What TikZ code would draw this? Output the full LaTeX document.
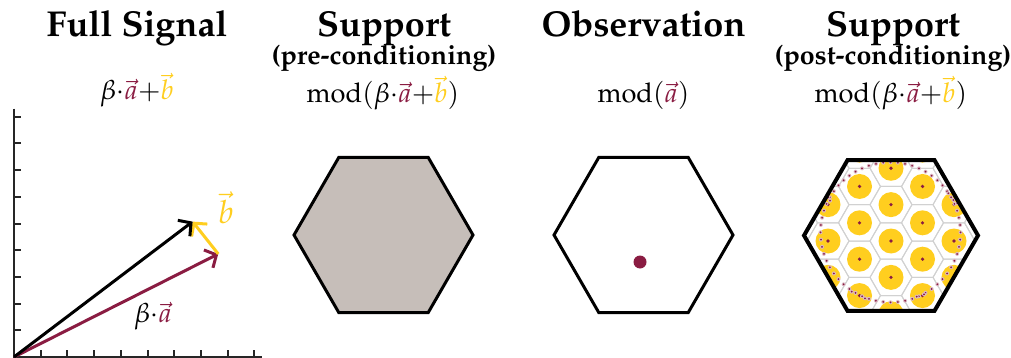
\documentclass[tikz,border=0pt]{standalone}
\usepackage[T1]{fontenc}
\usepackage{mathpazo}
\usepackage{xcolor}
\definecolor{sigred}{HTML}{8A1C42}
\definecolor{sigyellow}{HTML}{FFCE1F}
\definecolor{supgray}{HTML}{C6BEB9}
\usepackage{amsmath}
\usepackage{tikz}
\usetikzlibrary{arrows.meta}
\newcommand{\va}{{\color{sigred}\vec{a}}}
\newcommand{\vb}{{\color{sigyellow}\vec{b}}}
\newcommand{\modop}{\mathrm{mod}}

\begin{document}
\begin{tikzpicture}[x=0.5pt, y=-0.5pt,
  title/.style={font=\fontsize{18}{20}\selectfont\bfseries, anchor=base},
  subtitle/.style={font=\fontsize{13.4}{15}\selectfont\bfseries, anchor=base},
  formula/.style={font=\fontsize{13.6}{15}\selectfont, anchor=base},
  axisline/.style={line width=1pt, black!85},
  vecarrow/.style={line width=1.5pt, -{Straight Barb[length=4.5pt, width=10pt, line width=1.5pt]}},
  hexline/.style={line width=1.5pt, line join=miter},
  cellline/.style={line width=0.5pt, black!18}]
  \useasboundingbox (0,0) rectangle (1011,358);

  % column titles
  \node[title] (tsignal) at (137,37) {Full Signal};
  \node[formula] (fsignal) at (137,100) {$\beta{\cdot}\va{+}\vb$};
  \node[title] (tpre) at (384,37) {Support};
  \node[subtitle] (spre) at (384,65) {(pre-conditioning)};
  \node[formula] (fpre) at (383,103) {$\modop(\beta{\cdot}\va{+}\vb)$};
  \node[title] (tobs) at (643.5,37) {Observation};
  \node[formula] (fobs) at (643.5,103) {$\modop(\va)$};
  \node[title] (tpost) at (893,37) {Support};
  \node[subtitle] (spost) at (893,65) {(post-conditioning)};
  \node[formula] (fpost) at (891,103) {$\modop(\beta{\cdot}\va{+}\vb)$};

  % full signal plot
  \begin{scope}[shift={(14,357)}, x=13.35pt, y=13.35pt]
    \draw[axisline] (0,9.3) -- (0,0) -- (9.3,0);
    \foreach \k in {1,...,9} {
      \draw[axisline] (\k,0) -- (\k,0.27);
      \draw[axisline] (0,\k) -- (0.27,\k);
    }
    \coordinate (O) at (0,0);
    \coordinate (A) at (7.65,3.86);
    \coordinate (S) at (6.69,5.07);
    \draw[vecarrow, sigred] (O) -- (A);
    \draw[vecarrow, sigyellow] (A) -- (S);
    \draw[vecarrow, black] (O) -- (S);
  \end{scope}
  \node[font=\fontsize{16}{18}\selectfont, text=sigyellow] (blabel) at (226,208) {$\vec{b}$};
  \node[font=\fontsize{13.6}{15}\selectfont] (alabel) at (153,316) {$\beta{\cdot}\va$};

  % support before conditioning
  \draw[hexline, fill=supgray] (383.5,235) +(0:89.5) -- +(60:89.5) -- +(120:89.5)
       -- +(180:89.5) -- +(240:89.5) -- +(300:89.5) -- cycle;

  % observation
  \draw[hexline] (643.5,235) +(0:89.5) -- +(60:89.5) -- +(120:89.5)
       -- +(180:89.5) -- +(240:89.5) -- +(300:89.5) -- cycle;
  \fill[sigred] (640,262) circle (6.5);

  % support after conditioning
  \begin{scope}
    \clip (891,235.5) +(0:87) -- +(60:87) -- +(120:87)
         -- +(180:87) -- +(240:87) -- +(300:87) -- cycle;
    \foreach \i in {-4,...,4} {
      \foreach \j in {-3,...,3} {
        \pgfmathsetmacro\cx{891+31.5*\i}
        \pgfmathsetmacro\cy{241+36.37*\j+18.19*mod(abs(\i),2)}
        \draw[cellline] (\cx,\cy) +(0:21) -- +(60:21) -- +(120:21)
             -- +(180:21) -- +(240:21) -- +(300:21) -- cycle;
        \fill[sigyellow] (\cx,\cy) circle (12.5);
        \fill[sigred] (\cx,\cy) circle (1.8);
      }
    }
    \foreach \k in {0,...,59} {
      \fill[sigred!30] (890.5,232.3) ++(\k*6:70) circle (2);
      \fill[sigred] (890.5,232.3) ++(\k*6:70) circle (1);
    }
    \foreach \p in {(830,200.7),(828.3,197.3),(865,298.3),(851.7,291.7),(916.7,296.7),
                    (924,294.3),(948.3,193.3),(953.3,200),(957,203)} {
      \fill[sigred!30] \p circle (2);
      \fill[sigred] \p circle (1);
    }
  \end{scope}
  \draw[hexline, line width=2pt] (891,235.5) +(0:87) -- +(60:87) -- +(120:87)
       -- +(180:87) -- +(240:87) -- +(300:87) -- cycle;
\end{tikzpicture}
\end{document}
